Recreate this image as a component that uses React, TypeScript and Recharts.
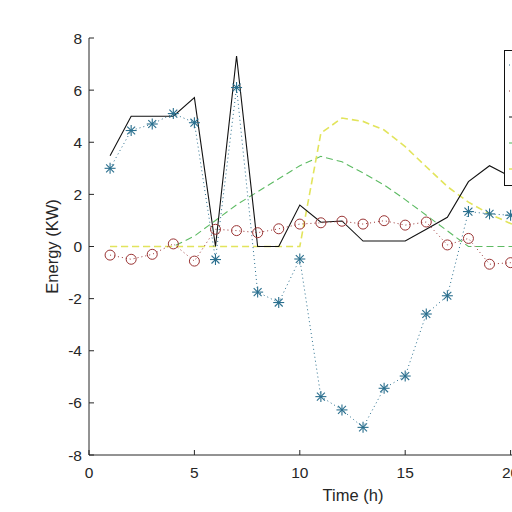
import React from 'react';
import { LineChart, Line, XAxis, YAxis, Legend, Label } from 'recharts';

// Hourly energy flows over one day
const hours = [1, 2, 3, 4, 5, 6, 7, 8, 9, 10, 11, 12, 13, 14, 15, 16, 17, 18, 19, 20, 21, 22, 23, 24];
const gridPower = [3.0, 4.45, 4.7, 5.1, 4.75, -0.5, 6.1, -1.75, -2.15, -0.48, -5.76, -6.27, -6.94, -5.44, -4.97, -2.59, -1.89, 1.34, 1.25, 1.2, 1.1, 1.3, 1.6, 2.2];
const batteryPower = [-0.33, -0.49, -0.3, 0.1, -0.56, 0.66, 0.61, 0.53, 0.68, 0.86, 0.91, 0.97, 0.86, 0.99, 0.82, 0.94, 0.06, 0.31, -0.68, -0.62, -0.5, -0.4, -0.3, -0.3];
const loadPower = [3.48, 5.0, 5.0, 5.0, 5.71, 0, 7.31, 0, 0, 1.59, 0.93, 0.98, 0.21, 0.21, 0.21, 0.66, 1.12, 2.49, 3.1, 2.68, 2.4, 2.6, 2.9, 3.4];
const pvPower = [0, 0, 0, 0, 0.4, 1.0, 1.6, 2.1, 2.6, 3.1, 3.46, 3.25, 2.82, 2.36, 1.8, 1.2, 0.6, 0, 0, 0, 0, 0, 0, 0];
const windPower = [0, 0, 0, 0, 0, 0, 0, 0, 0, 0, 4.35, 4.93, 4.8, 4.47, 3.83, 3.06, 2.3, 1.7, 1.25, 0.88, 0.6, 0.4, 0.3, 0.2];

const xTicks = [0, 5, 10, 15, 20, 25];
const yTicks = [-8, -6, -4, -2, 0, 2, 4, 6, 8];

const data = hours.map((h, i) => ({
  hour: h,
  grid: gridPower[i],
  battery: batteryPower[i],
  load: loadPower[i],
  pv: pvPower[i],
  wind: windPower[i],
}));

const AXIS = '#262626';
const FONT = '"Liberation Sans", Arial, Helvetica, sans-serif';

const STAR = '#2a6f8e';
const CIRCLE = '#9a3434';
const BLACK = '#111111';
const GREEN = '#5dbb63';
const YELLOW = '#e2e45c';

// Line samples shown in the legend box, top to bottom
const styles = [
  { key: 'grid', color: STAR, dash: '1 3', width: 1 },
  { key: 'battery', color: CIRCLE, dash: '1 3', width: 1 },
  { key: 'load', color: BLACK, dash: undefined, width: 1.1 },
  { key: 'pv', color: GREEN, dash: '7 4', width: 1.1 },
  { key: 'wind', color: YELLOW, dash: '7 4', width: 1.6 },
];

const StarDot = (props: any) => {
  const { cx, cy } = props;
  if (cx == null || cy == null) return null;
  const r = 5.5;
  const d = r * 0.72;
  return (
    <g stroke={STAR} strokeWidth={1.1}>
      <line x1={cx - r} y1={cy} x2={cx + r} y2={cy} />
      <line x1={cx} y1={cy - r} x2={cx} y2={cy + r} />
      <line x1={cx - d} y1={cy - d} x2={cx + d} y2={cy + d} />
      <line x1={cx - d} y1={cy + d} x2={cx + d} y2={cy - d} />
    </g>
  );
};

const CircleDot = (props: any) => {
  const { cx, cy } = props;
  if (cx == null || cy == null) return null;
  return <circle cx={cx} cy={cy} r={5} fill="none" stroke={CIRCLE} strokeWidth={1} />;
};

const BottomTick = (props: any) => {
  const { x, y, payload } = props;
  return (
    <g>
      <line x1={x} y1={y} x2={x} y2={y - 5} stroke={AXIS} strokeWidth={1} />
      <text x={x} y={y + 23} textAnchor="middle" fill={AXIS} fontSize={15.5} fontFamily={FONT}>
        {payload.value}
      </text>
    </g>
  );
};

const TopTick = (props: any) => {
  const { x, y } = props;
  return <line x1={x} y1={y} x2={x} y2={y + 5} stroke={AXIS} strokeWidth={1} />;
};

const LeftTick = (props: any) => {
  const { x, y, payload } = props;
  return (
    <g>
      <line x1={x} y1={y} x2={x + 5} y2={y} stroke={AXIS} strokeWidth={1} />
      <text x={x - 7} y={y + 5.5} textAnchor="end" fill={AXIS} fontSize={15.5} fontFamily={FONT}>
        {payload.value}
      </text>
    </g>
  );
};

const LegendBox = () => (
  <svg width={140} height={136} style={{ display: 'block' }}>
    <rect x={0.5} y={0.5} width={139} height={135} fill="#ffffff" stroke={BLACK} strokeWidth={1} />
    {styles.map((s, i) => (
      <line
        key={s.key}
        x1={5}
        y1={15 + i * 26}
        x2={45}
        y2={15 + i * 26}
        stroke={s.color}
        strokeWidth={s.width}
        strokeDasharray={s.dash}
      />
    ))}
  </svg>
);

export default function App() {
  return (
    <div style={{ position: 'absolute', left: 0, top: 0, width: 512, height: 512, overflow: 'hidden', background: '#fff' }}>
      <LineChart
        width={640}
        height={512}
        data={data}
        margin={{ top: 38, right: 24, bottom: 17, left: 39 }}
      >
        <XAxis
          xAxisId="bottom"
          dataKey="hour"
          type="number"
          domain={[0, 25]}
          ticks={xTicks}
          height={40}
          stroke={AXIS}
          axisLine={{ stroke: AXIS, strokeWidth: 1 }}
          tickLine={false}
          tickSize={0}
          tickMargin={0}
          tick={<BottomTick />}
          interval={0}
        >
          <Label
            content={() => (
              <text x={353} y={501} textAnchor="middle" fill={AXIS} fontSize={16.5} fontFamily={FONT}>
                Time (h)
              </text>
            )}
          />
        </XAxis>
        <XAxis
          xAxisId="top"
          dataKey="hour"
          type="number"
          orientation="top"
          domain={[0, 25]}
          ticks={xTicks}
          height={0}
          axisLine={{ stroke: AXIS, strokeWidth: 1 }}
          tickLine={false}
          tickSize={0}
          tickMargin={0}
          tick={<TopTick />}
          interval={0}
        />
        <YAxis
          type="number"
          domain={[-8, 8]}
          ticks={yTicks}
          width={50}
          axisLine={{ stroke: AXIS, strokeWidth: 1 }}
          tickLine={false}
          tickSize={0}
          tickMargin={0}
          tick={<LeftTick />}
          interval={0}
        >
          <Label
            content={() => (
              <text
                transform="translate(57.5, 246.5) rotate(-90)"
                textAnchor="middle"
                fill={AXIS}
                fontSize={16.5}
                fontFamily={FONT}
              >
                Energy (KW)
              </text>
            )}
          />
        </YAxis>
        <Legend
          layout="horizontal"
          verticalAlign="middle"
          align="center"
          content={() => <LegendBox />}
          wrapperStyle={{ position: 'absolute', left: 504, top: 50, width: 140, height: 136 }}
        />
        <Line
          xAxisId="bottom"
          dataKey="pv"
          stroke={GREEN}
          strokeWidth={1.1}
          strokeDasharray="7 4"
          dot={false}
          activeDot={false}
          isAnimationActive={false}
        />
        <Line
          xAxisId="bottom"
          dataKey="wind"
          stroke={YELLOW}
          strokeWidth={1.6}
          strokeDasharray="7 4"
          dot={false}
          activeDot={false}
          isAnimationActive={false}
        />
        <Line
          xAxisId="bottom"
          dataKey="load"
          stroke={BLACK}
          strokeWidth={1.1}
          dot={false}
          activeDot={false}
          isAnimationActive={false}
        />
        <Line
          xAxisId="bottom"
          dataKey="battery"
          stroke={CIRCLE}
          strokeWidth={1}
          strokeDasharray="1 3"
          dot={<CircleDot />}
          activeDot={false}
          isAnimationActive={false}
        />
        <Line
          xAxisId="bottom"
          dataKey="grid"
          stroke={STAR}
          strokeWidth={1}
          strokeDasharray="1 3"
          dot={<StarDot />}
          activeDot={false}
          isAnimationActive={false}
        />
      </LineChart>
    </div>
  );
}
